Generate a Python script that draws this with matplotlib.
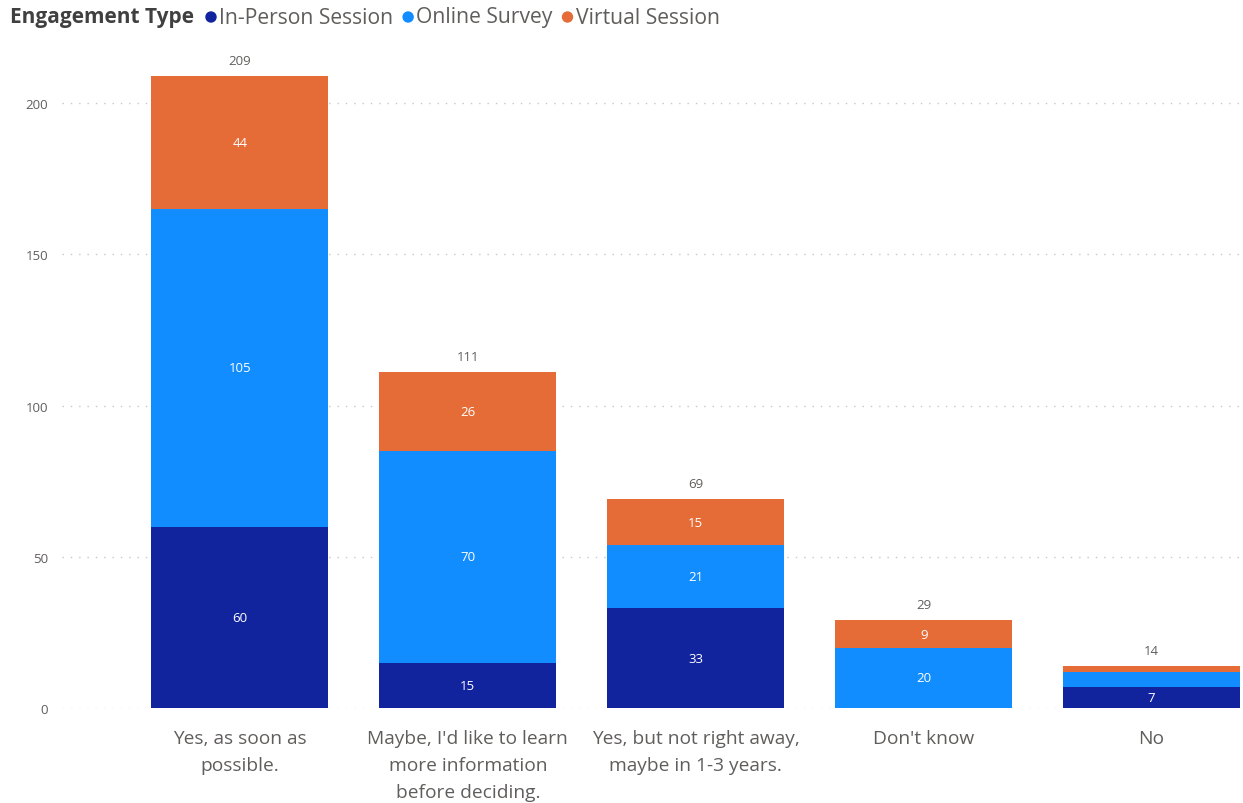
import matplotlib.pyplot as plt
import numpy as np

categories = [
    "Yes, as soon as\npossible.",
    "Maybe, I'd like to learn\nmore information\nbefore deciding.",
    "Yes, but not right away,\nmaybe in 1-3 years.",
    "Don't know",
    "No",
]
in_person = [60, 15, 33, 0, 7]
online_survey = [105, 70, 21, 20, 5]
virtual_session = [44, 26, 15, 9, 2]
totals = [209, 111, 69, 29, 14]

series_names = ["In-Person Session", "Online Survey", "Virtual Session"]
series_colors = ["#12239E", "#118DFF", "#E66C37"]
y_ticks = [0, 50, 100, 150, 200]

TEXT_GREY = "#605E5C"
FONT = "Open Sans"

fig = plt.figure(figsize=(12.43, 8.04), dpi=100)
ax = fig.add_axes([0.050, 0.118, 0.948, 0.820])

x = np.arange(len(categories))
bottom = np.zeros(len(categories))
for name, vals, color in zip(series_names, [in_person, online_survey, virtual_session], series_colors):
    vals = np.array(vals, dtype=float)
    ax.bar(x, vals, width=0.776, bottom=bottom, color=color, edgecolor="none", zorder=2)
    for xi, b, v in zip(x, bottom, vals):
        if v >= 6:
            ax.text(xi, b + v / 2, f"{int(v)}", ha="center", va="center",
                    color="white", fontsize=9.5, family=FONT, zorder=3)
    bottom += vals

for xi, t in zip(x, totals):
    ax.text(xi, t + 3, str(t), ha="center", va="bottom", color=TEXT_GREY,
            fontsize=9.5, family=FONT)

ax.set_xlim(-0.78, 4.39)
ax.set_ylim(0, 218)
ax.set_yticks(y_ticks)
ax.set_yticklabels([str(t) for t in y_ticks], color=TEXT_GREY, fontsize=9.5, family=FONT)
ax.set_xticks(x)
ax.set_xticklabels(categories, color=TEXT_GREY, fontsize=13.8, family=FONT, linespacing=1.64)
ax.tick_params(axis="both", length=0)
ax.tick_params(axis="y", pad=10)
ax.tick_params(axis="x", pad=15)
for s in ax.spines.values():
    s.set_visible(False)
ax.yaxis.grid(True, linestyle=(0, (1, 5)), color="#C8C8C8", linewidth=1.0, zorder=0)
ax.set_axisbelow(True)

# legend row along the top edge, laid out item by item
fig.canvas.draw()
renderer = fig.canvas.get_renderer()
y_leg = 1 - 18 / 804
title = fig.text(10 / 1243, y_leg, "Engagement Type", fontsize=15, fontweight="bold",
                 color="#404040", family=FONT, va="center", ha="left")
cursor = title.get_window_extent(renderer).x1 + 12
for name, color in zip(series_names, series_colors):
    fig.patches.append(plt.Circle((cursor + 5, y_leg * 804), 5, color=color,
                                  transform=None, figure=fig))
    t = fig.text((cursor + 13) / 1243, y_leg, name, fontsize=15.2, color=TEXT_GREY,
                 family=FONT, va="center", ha="left")
    cursor = t.get_window_extent(renderer).x1 + 10

fig.savefig("out.png", dpi=100)
